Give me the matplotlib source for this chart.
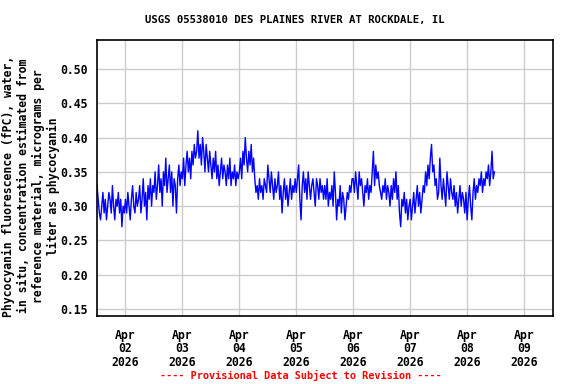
import numpy as np
import matplotlib
matplotlib.use("Agg")
import matplotlib.pyplot as plt
import datetime as dt

# half-hourly phycocyanin readings, Apr 1 12:00 -> Apr 8 11:30
apr01 = [0.33,0.31,0.29,0.28,0.30,0.32,0.29,0.31,0.28,0.30,0.32,0.31,
         0.29,0.33,0.30,0.28,0.31,0.30,0.32,0.29,0.31,0.27,0.30,0.29]
apr02 = [0.31,0.29,0.32,0.30,0.28,0.31,0.33,0.30,0.29,0.32,0.30,0.31,
         0.33,0.29,0.31,0.34,0.30,0.32,0.28,0.33,0.31,0.34,0.30,0.33,
         0.32,0.35,0.31,0.33,0.36,0.32,0.34,0.30,0.35,0.33,0.37,0.32,
         0.34,0.36,0.32,0.35,0.30,0.34,0.33,0.29,0.34,0.36,0.33,0.35]
apr03 = [0.34,0.37,0.33,0.36,0.38,0.35,0.37,0.34,0.38,0.36,0.39,0.37,
         0.38,0.41,0.37,0.39,0.36,0.40,0.38,0.35,0.39,0.37,0.35,0.38,
         0.36,0.34,0.37,0.35,0.38,0.34,0.36,0.33,0.35,0.37,0.34,0.36,
         0.35,0.33,0.36,0.34,0.37,0.33,0.35,0.34,0.36,0.33,0.35,0.34]
apr04 = [0.35,0.37,0.34,0.38,0.36,0.40,0.37,0.35,0.38,0.36,0.39,0.35,
         0.37,0.34,0.32,0.33,0.31,0.34,0.32,0.33,0.31,0.34,0.33,0.32,
         0.36,0.34,0.32,0.35,0.33,0.31,0.34,0.32,0.33,0.35,0.31,0.33,
         0.29,0.32,0.34,0.31,0.33,0.30,0.32,0.34,0.31,0.33,0.32,0.34]
apr05 = [0.32,0.34,0.36,0.31,0.28,0.33,0.35,0.32,0.34,0.31,0.35,0.33,
         0.31,0.33,0.34,0.32,0.30,0.34,0.33,0.31,0.34,0.32,0.33,0.31,
         0.33,0.31,0.34,0.30,0.32,0.31,0.33,0.30,0.35,0.32,0.28,0.31,
         0.30,0.33,0.29,0.32,0.31,0.28,0.30,0.32,0.31,0.33,0.32,0.34]
apr06 = [0.34,0.32,0.35,0.33,0.31,0.35,0.33,0.34,0.32,0.30,0.33,0.32,
         0.34,0.31,0.33,0.32,0.35,0.38,0.33,0.36,0.34,0.35,0.33,0.32,
         0.31,0.33,0.32,0.34,0.31,0.33,0.32,0.30,0.33,0.31,0.34,0.32,
         0.35,0.31,0.33,0.29,0.27,0.31,0.30,0.32,0.29,0.31,0.28,0.30]
apr07 = [0.31,0.28,0.30,0.32,0.29,0.31,0.33,0.30,0.32,0.29,0.31,0.33,
         0.32,0.35,0.33,0.36,0.34,0.37,0.39,0.35,0.36,0.33,0.34,0.31,
         0.32,0.37,0.33,0.31,0.34,0.32,0.30,0.35,0.33,0.31,0.34,0.32,
         0.31,0.33,0.30,0.32,0.29,0.31,0.33,0.30,0.32,0.31,0.29,0.32]
apr08 = [0.28,0.31,0.33,0.30,0.28,0.32,0.34,0.31,0.33,0.32,0.34,0.33,
         0.35,0.32,0.34,0.33,0.35,0.34,0.36,0.33,0.35,0.38,0.34,0.35]

vals = apr01 + apr02 + apr03 + apr04 + apr05 + apr06 + apr07 + apr08
t0 = dt.datetime(2026, 4, 1, 12, 0)
times = [t0 + dt.timedelta(minutes=30 * i) for i in range(len(vals))]

tick_days = [dt.datetime(2026, 4, d) for d in range(2, 10)]
tick_labels = ["Apr\n%02d\n2026" % d.day for d in tick_days]
yticks = [0.15, 0.20, 0.25, 0.30, 0.35, 0.40, 0.45, 0.50]

mono = "DejaVu Sans Mono"

fig = plt.figure(figsize=(5.76, 3.84), dpi=100)
ax = fig.add_axes([97/576, 1-316/384, (553-97)/576, (316-40)/384])

ax.plot(times, vals, color="#0000ff", lw=1.0)

ax.set_xlim(dt.datetime(2026, 4, 1, 12), dt.datetime(2026, 4, 9, 12, 12))
ax.set_ylim(0.1398, 0.5423)
ax.set_xticks(tick_days)
ax.set_xticklabels(tick_labels, fontfamily=mono, fontweight="bold", fontsize=8.3,
                   linespacing=1.05)
ax.set_yticks(yticks)
ax.set_yticklabels(["%.2f" % v for v in yticks], fontfamily=mono,
                   fontweight="bold", fontsize=8.3)
ax.tick_params(axis="y", length=0, pad=7)
ax.tick_params(axis="x", length=0, pad=9)
ax.grid(True, color="#cccccc", lw=1)
ax.set_axisbelow(True)
for s in ax.spines.values():
    s.set_linewidth(1.2)

fig.text(31/576, 1-186/384,
         "Phycocyanin fluorescence (fPC), water,\n"
         "in situ, concentration estimated from\n"
         "reference material, micrograms per\n"
         "liter as phycocyanin",
         rotation=90, ha="center", va="center", multialignment="center",
         fontfamily=mono, fontweight="bold", fontsize=8.3, linespacing=1.2)

fig.text(295/576, 1-20/384, "USGS 05538010 DES PLAINES RIVER AT ROCKDALE, IL",
         ha="center", va="center", fontfamily=mono, fontweight="bold", fontsize=7.7)
fig.text(301/576, 1-375/384, "---- Provisional Data Subject to Revision ----",
         ha="center", va="center", fontfamily=mono, fontweight="bold", fontsize=7.4,
         color="#ff0000")

fig.savefig("out.png", dpi=100)
